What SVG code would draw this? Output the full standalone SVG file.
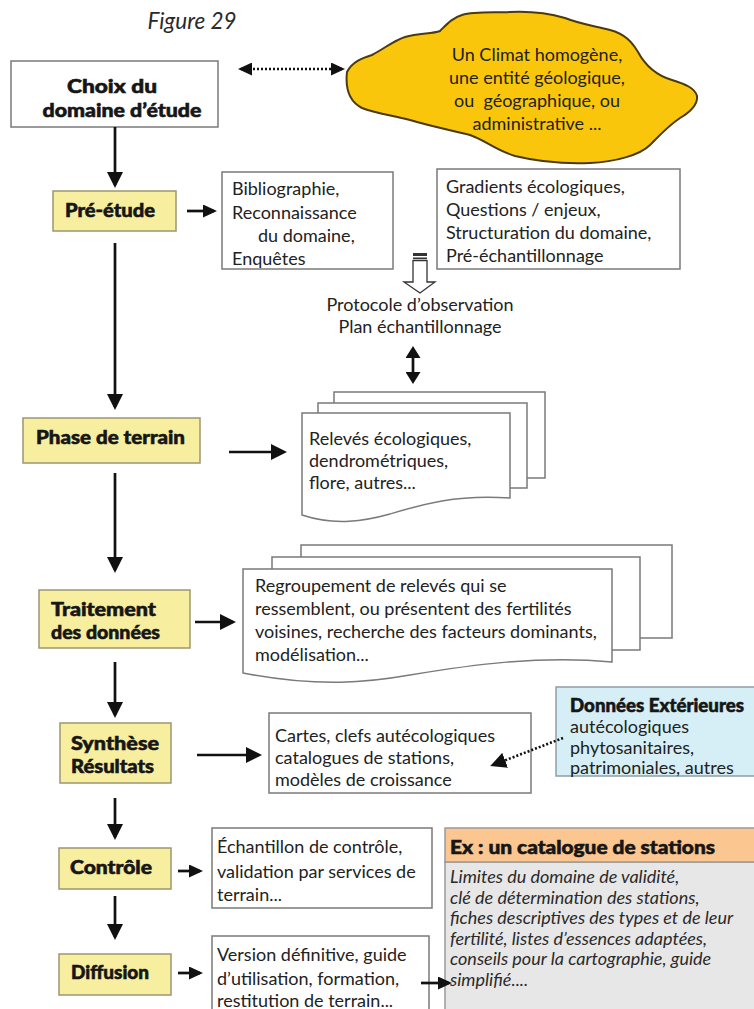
<svg xmlns="http://www.w3.org/2000/svg" width="754" height="1009" viewBox="0 0 754 1009">
<style>
.t{font-family:Lato,"Open Sans","Liberation Sans",sans-serif;font-size:18px;fill:#222}
.b{font-family:Lato,"Open Sans","Liberation Sans",sans-serif;font-weight:900;font-size:18px;fill:#161616;stroke:#161616;stroke-width:0.55}
.it{font-family:Lato,"Open Sans","Liberation Sans",sans-serif;font-style:italic;font-size:18px;fill:#2a2a2a}
.ybox{fill:#F7EE9F;stroke:#9C9670;stroke-width:1.5}
.wbox{fill:#fff;stroke:#7a7a7a;stroke-width:1.5}
.arr{stroke:#111;stroke-width:2.7;fill:none}
.dot{stroke:#111;stroke-width:2.6;fill:none;stroke-dasharray:2 2}
</style>
<defs>
<marker id="ah" viewBox="0 0 16 16" refX="13" refY="8" markerWidth="16" markerHeight="16" markerUnits="userSpaceOnUse" orient="auto-start-reverse"><path d="M0,0 L16,8 L0,16 z" fill="#111"/></marker>
<marker id="as" viewBox="0 0 14 13" refX="11" refY="6.5" markerWidth="14" markerHeight="13" markerUnits="userSpaceOnUse" orient="auto-start-reverse"><path d="M0,0 L14,6.5 L0,13 z" fill="#111"/></marker>
<marker id="ad" viewBox="0 0 12 15" refX="9" refY="7.5" markerWidth="12" markerHeight="15" markerUnits="userSpaceOnUse" orient="auto-start-reverse"><path d="M0,0 L12,7.5 L0,15 z" fill="#111"/></marker>
</defs>
<rect width="754" height="1009" fill="#fff"/>

<text class="it" x="192" y="29" text-anchor="middle" style="font-size:22.5px">Figure 29</text>

<g id="choix">
<rect class="wbox" x="11" y="61" width="207" height="66"/>
<text class="b" x="112" y="93" text-anchor="middle" font-size="21" textLength="90" lengthAdjust="spacingAndGlyphs">Choix du</text>
<text class="b" x="122" y="117" text-anchor="middle" font-size="21" textLength="159" lengthAdjust="spacingAndGlyphs">domaine d’étude</text>
</g>

<g id="climat">
<path d="M347,72 C352,62 362,58 372,55 C385,48 395,40 405,37 C420,33 432,34 440,31 C447,24 452,18 462,15 C475,11 495,13 510,12 C530,11 548,13 565,18 C580,24 595,26 610,30 C625,34 632,42 638,52 C645,65 655,75 672,80 C685,84 695,88 697,96 C698,105 690,112 680,118 C668,126 660,135 650,145 C640,155 615,162 590,163 C565,164 540,162 515,156 C495,150 485,140 470,135 C450,130 430,126 410,120 C390,115 375,113 362,108 C350,102 345,90 347,72 Z" fill="#FAC60C" stroke="#4A3A12" stroke-width="2"/>
<text class="t" x="537" y="61" text-anchor="middle" font-size="19.5">Un Climat homogène,</text>
<text class="t" x="537" y="84" text-anchor="middle" font-size="19.5">une entité géologique,</text>
<text class="t" x="537" y="107" text-anchor="middle" font-size="19.5" xml:space="preserve">ou  géographique, ou</text>
<text class="t" x="537" y="130" text-anchor="middle" font-size="19.5">administrative ...</text>
</g>

<g id="pre-etude">
<rect class="ybox" x="53" y="191" width="123" height="40"/>
<text class="b" x="110" y="217" text-anchor="middle" textLength="90" lengthAdjust="spacingAndGlyphs">Pré-étude</text>
</g>

<g id="biblio">
<rect class="wbox" x="222" y="172" width="171" height="97"/>
<text class="t" x="232" y="195">Bibliographie,</text>
<text class="t" x="232" y="219">Reconnaissance</text>
<text class="t" x="258" y="242">du domaine,</text>
<text class="t" x="232" y="265">Enquêtes</text>
</g>

<g id="gradients">
<rect class="wbox" x="437" y="169" width="243" height="100"/>
<text class="t" x="446" y="193">Gradients écologiques,</text>
<text class="t" x="446" y="216">Questions / enjeux,</text>
<text class="t" x="446" y="239">Structuration du domaine,</text>
<text class="t" x="446" y="262">Pré-échantillonnage</text>
</g>

<g id="protocole">
<rect x="413" y="253" width="14" height="3" fill="#333"/>
<rect x="413" y="257.5" width="14" height="1.6" fill="#333"/>
<path d="M413,260.5 H427 V282 H435 L420,293 L404,282 H413 Z" fill="#fff" stroke="#333" stroke-width="1.3"/>
<text class="t" x="420" y="311" text-anchor="middle">Protocole d’observation</text>
<text class="t" x="420" y="333" text-anchor="middle">Plan échantillonnage</text>
</g>

<g id="phase">
<rect class="ybox" x="23" y="418" width="177" height="45"/>
<text class="b" x="36" y="444" textLength="149" lengthAdjust="spacingAndGlyphs">Phase de terrain</text>
</g>

<g id="releves">
<rect class="wbox" x="334" y="392" width="211" height="86"/>
<rect class="wbox" x="318" y="403" width="209" height="85"/>
<path class="wbox" d="M302,413 H510 V498 C455,494 420,505 390,514 C365,521 335,526 302,515 Z"/>
<text class="t" x="309" y="445">Relevés écologiques,</text>
<text class="t" x="309" y="467">dendrométriques,</text>
<text class="t" x="309" y="489">flore, autres...</text>
</g>

<g id="traitement">
<rect class="ybox" x="39" y="590" width="151" height="58"/>
<text class="b" x="51" y="616" textLength="105" lengthAdjust="spacingAndGlyphs">Traitement</text>
<text class="b" x="51" y="639" textLength="109" lengthAdjust="spacingAndGlyphs">des données</text>
</g>

<g id="regroupement">
<rect class="wbox" x="301" y="545" width="371" height="93"/>
<rect class="wbox" x="272" y="557" width="368" height="93"/>
<path class="wbox" d="M243,569 H612 V662 C540,655 470,665 410,675 C370,682 320,688 243,673 Z"/>
<text class="t" x="255" y="592">Regroupement de relevés qui se</text>
<text class="t" x="255" y="615">ressemblent, ou présentent des fertilités</text>
<text class="t" x="255" y="638">voisines, recherche des facteurs dominants,</text>
<text class="t" x="255" y="661">modélisation...</text>
</g>

<g id="synthese">
<rect class="ybox" x="60" y="723" width="111" height="60"/>
<text class="b" x="71" y="750" textLength="88" lengthAdjust="spacingAndGlyphs">Synthèse</text>
<text class="b" x="71" y="773" textLength="83" lengthAdjust="spacingAndGlyphs">Résultats</text>
</g>

<g id="cartes">
<rect class="wbox" x="269" y="713" width="262" height="80"/>
<text class="t" x="275" y="742">Cartes, clefs autécologiques</text>
<text class="t" x="275" y="764">catalogues de stations,</text>
<text class="t" x="275" y="786">modèles de croissance</text>
</g>

<g id="donnees-ext">
<rect x="556" y="687" width="210" height="89" fill="#D6EEF5" stroke="#8E9EA4" stroke-width="1.5"/>
<text class="b" x="570" y="712" font-size="17.5" textLength="174" lengthAdjust="spacingAndGlyphs">Données Extérieures</text>
<text class="t" x="570" y="733">autécologiques</text>
<text class="t" x="570" y="754">phytosanitaires,</text>
<text class="t" x="570" y="774">patrimoniales, autres</text>
</g>

<g id="controle">
<rect class="ybox" x="59" y="848" width="112" height="41"/>
<text class="b" x="111" y="874" text-anchor="middle" textLength="82" lengthAdjust="spacingAndGlyphs">Contrôle</text>
</g>

<g id="echantillon">
<rect class="wbox" x="212" y="828" width="220" height="80"/>
<text class="t" x="217" y="853" font-size="19">Échantillon de contrôle,</text>
<text class="t" x="217" y="878" font-size="19">validation par services de</text>
<text class="t" x="217" y="901" font-size="19">terrain...</text>
</g>

<g id="diffusion">
<rect class="ybox" x="59" y="954" width="112" height="41"/>
<text class="b" x="110" y="979" text-anchor="middle" textLength="78" lengthAdjust="spacingAndGlyphs">Diffusion</text>
</g>

<g id="version">
<rect class="wbox" x="212" y="936" width="217" height="80"/>
<text class="t" x="217" y="961" font-size="19">Version définitive, guide</text>
<text class="t" x="217" y="985" font-size="19">d’utilisation, formation,</text>
<text class="t" x="217" y="1007" font-size="19">restitution de terrain...</text>
</g>

<g id="catalogue">
<rect x="445" y="862" width="320" height="160" fill="#E7E7E7" stroke="#9a9a9a" stroke-width="1.5"/>
<rect x="445" y="828" width="320" height="34" fill="#FBC690" stroke="#9a9a9a" stroke-width="1.5"/>
<text class="b" x="450" y="854" font-size="19" textLength="265" lengthAdjust="spacingAndGlyphs">Ex : un catalogue de stations</text>
<text class="it" x="450" y="883">Limites du domaine de validité,</text>
<text class="it" x="450" y="904">clé de détermination des stations,</text>
<text class="it" x="450" y="924">fiches descriptives des types et de leur</text>
<text class="it" x="450" y="945">fertilité, listes d’essences adaptées,</text>
<text class="it" x="450" y="965">conseils pour la cartographie, guide</text>
<text class="it" x="450" y="986">simplifié....</text>
</g>

<g id="connectors">
<line class="dot" x1="241" y1="69" x2="342" y2="69" marker-start="url(#as)" marker-end="url(#as)"/>
<line class="arr" x1="115" y1="127" x2="115" y2="185" marker-end="url(#ah)"/>
<line class="arr" x1="187" y1="211" x2="214" y2="211" marker-end="url(#as)"/>
<line class="arr" x1="413" y1="349" x2="413" y2="381" marker-start="url(#ad)" marker-end="url(#ad)"/>
<line class="arr" x1="115" y1="243" x2="115" y2="407" marker-end="url(#ah)"/>
<line class="arr" x1="229" y1="452" x2="284" y2="452" marker-end="url(#ah)"/>
<line class="arr" x1="115" y1="473" x2="115" y2="570" marker-end="url(#ah)"/>
<line class="arr" x1="195" y1="622" x2="233" y2="622" marker-end="url(#ah)"/>
<line class="arr" x1="115" y1="662" x2="115" y2="715" marker-end="url(#ah)"/>
<line class="arr" x1="197" y1="755" x2="259" y2="755" marker-end="url(#ah)"/>
<line class="dot" x1="563" y1="738" x2="493" y2="765" marker-end="url(#ah)"/>
<line class="arr" x1="115" y1="798" x2="115" y2="837" marker-end="url(#ah)"/>
<line class="arr" x1="178" y1="871" x2="200" y2="871" marker-end="url(#as)"/>
<line class="arr" x1="115" y1="896" x2="115" y2="937" marker-end="url(#ah)"/>
<line class="arr" x1="178" y1="973" x2="200" y2="973" marker-end="url(#as)"/>
<line class="arr" x1="421" y1="983" x2="449" y2="983" marker-end="url(#as)"/>
</g>
</svg>
